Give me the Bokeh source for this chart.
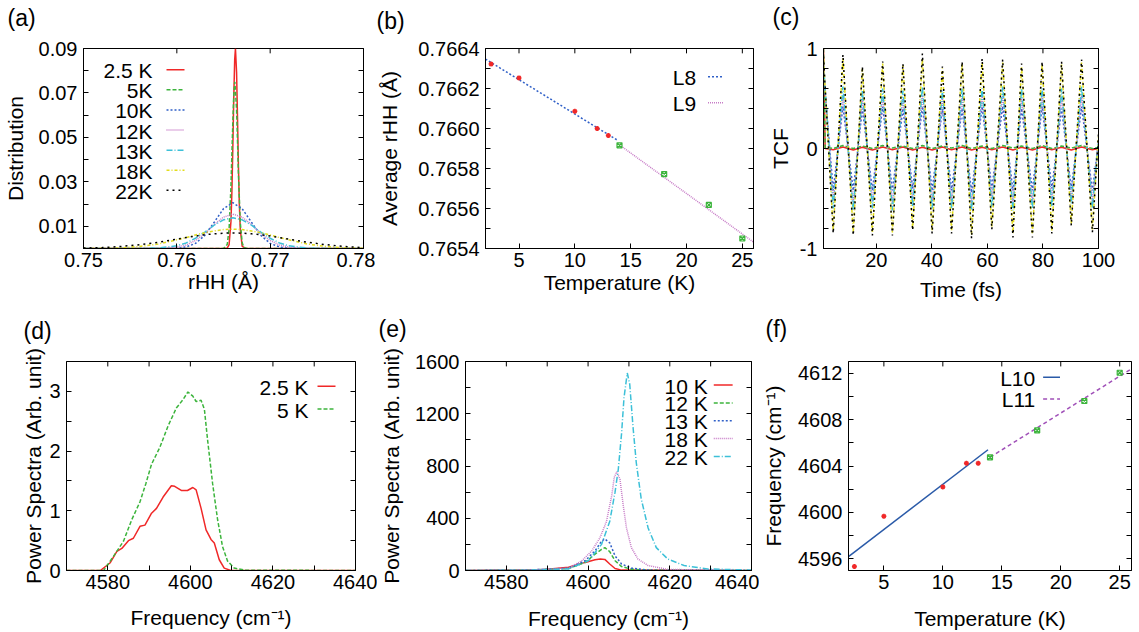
from bokeh.plotting import figure
from bokeh.layouts import column, row
from bokeh.models import (FixedTicker, NumeralTickFormatter, LinearAxis, Label, Arrow,
                          CustomJSTickFormatter, Range1d, GridBox)
from bokeh.embed import file_html
from bokeh.resources import INLINE

# ---------------- data ----------------
# (a) distribution of r_HH
a_x_25 = [0.750, 0.7650, 0.7654, 0.7656, 0.7658, 0.7659, 0.7660, 0.7661, 0.7662, 0.76628,
          0.7664, 0.7665, 0.7666, 0.7667, 0.7668, 0.7670, 0.7674, 0.780]
a_y_25 = [0, 0, 0.0002, 0.0017, 0.0122, 0.0257, 0.0456, 0.0680, 0.0851, 0.0900,
          0.0794, 0.0591, 0.0370, 0.0195, 0.0086, 0.0010, 0.0, 0]
a_x_5 = [0.750, 0.7650, 0.7654, 0.7656, 0.7658, 0.7660, 0.7661, 0.7662, 0.76622, 0.7664,
         0.7665, 0.7666, 0.7668, 0.7670, 0.7672, 0.7676, 0.780]
a_y_5 = [0, 0, 0.0018, 0.0088, 0.0281, 0.0572, 0.0691, 0.0748, 0.0749, 0.0626,
         0.0484, 0.0336, 0.0116, 0.0026, 0.0004, 0, 0]
a_x_broad = [0.750, 0.752, 0.754, 0.756, 0.758, 0.760, 0.761, 0.762, 0.763, 0.764, 0.765,
             0.766, 0.767, 0.768, 0.769, 0.770, 0.771, 0.772, 0.774, 0.776, 0.778, 0.780]
a_y_10 = [0, 0, 0, 0, 0, 0.0001, 0.0007, 0.0023, 0.0059, 0.0118, 0.0179,
          0.0206, 0.0179, 0.0118, 0.0059, 0.0023, 0.0007, 0.0001, 0, 0, 0, 0]
a_y_12 = [0, 0, 0, 0, 0, 0.0006, 0.0016, 0.0036, 0.0068, 0.0108, 0.0141,
          0.0155, 0.0141, 0.0108, 0.0068, 0.0036, 0.0016, 0.0006, 0, 0, 0, 0]
a_y_13 = [0, 0, 0, 0, 0.0002, 0.0012, 0.0025, 0.0046, 0.0074, 0.0105, 0.0129,
          0.0138, 0.0129, 0.0105, 0.0074, 0.0046, 0.0025, 0.0012, 0.0002, 0, 0, 0]
a_y_18 = [0.0000, 0.0001, 0.0003, 0.0009, 0.0020, 0.0039, 0.0049, 0.0061, 0.0071, 0.0079, 0.0085,
          0.0087, 0.0085, 0.0079, 0.0071, 0.0061, 0.0049, 0.0039, 0.0020, 0.0009, 0.0003, 0.0001]
a_y_22 = [0.0002, 0.0004, 0.0009, 0.0017, 0.0028, 0.0042, 0.0049, 0.0056, 0.0062, 0.0066, 0.0069,
          0.0070, 0.0069, 0.0066, 0.0062, 0.0056, 0.0049, 0.0042, 0.0028, 0.0017, 0.0009, 0.0004]
a_labels = ["2.5 K", "5K", "10K", "12K", "13K", "18K", "22K"]

# (b) average r_HH vs temperature
b_T_low = [2.5, 5, 10, 12, 13]
b_r_low = [0.766322, 0.766253, 0.766086, 0.766000, 0.765965]
b_T_high = [14, 18, 22, 25]
b_r_high = [0.765916, 0.765772, 0.765618, 0.765450]
b_L8_T = [2.0, 13.8]
b_L8_r = [0.766347, 0.765942]
b_L9_T = [14.0, 26.0]
b_L9_r = [0.765918, 0.765432]

# (c) time correlation functions
c_t = [1.0, 4.5, 8.0, 11.7, 15.0, 18.6, 22.3, 25.8, 29.6, 33.1, 36.6, 40.1, 43.8, 47.1, 50.9,
       54.3, 58.1, 61.6, 65.5, 69.2, 72.3, 76.2, 79.7, 83.2, 86.7, 90.2, 93.9, 97.8, 100.0]
c_22 = [0.92, -0.85, 0.94, -0.87, 0.82, -0.87, 0.87, -0.87, 0.85, -0.82, 0.95, -0.85, 0.82, -0.85, 0.87,
        -0.90, 0.90, -0.81, 0.89, -0.89, 0.85, -0.89, 0.87, -0.85, 0.87, -0.77, 0.89, -0.84, 0.15]
c_18 = [0.90, -0.82, 0.90, -0.84, 0.80, -0.84, 0.85, -0.84, 0.83, -0.80, 0.90, -0.82, 0.80, -0.82, 0.85,
        -0.86, 0.86, -0.79, 0.86, -0.85, 0.82, -0.85, 0.84, -0.82, 0.84, -0.75, 0.86, -0.81, 0.14]
c_13 = [0.85, -0.60, 0.62, -0.62, 0.58, -0.60, 0.60, -0.62, 0.58, -0.58, 0.62, -0.60, 0.58, -0.60, 0.60,
        -0.62, 0.60, -0.58, 0.62, -0.62, 0.60, -0.60, 0.60, -0.58, 0.60, -0.55, 0.62, -0.60, 0.10]
c_12 = [0.80, -0.52, 0.52, -0.55, 0.50, -0.53, 0.52, -0.55, 0.50, -0.52, 0.53, -0.53, 0.50, -0.53, 0.52,
        -0.55, 0.52, -0.50, 0.53, -0.55, 0.50, -0.53, 0.52, -0.52, 0.52, -0.50, 0.53, -0.53, 0.08]
c_10 = [0.75, -0.42, 0.42, -0.42, 0.40, -0.42, 0.42, -0.42, 0.40, -0.40, 0.42, -0.42, 0.40, -0.42, 0.40,
        -0.44, 0.42, -0.40, 0.42, -0.42, 0.40, -0.42, 0.42, -0.40, 0.40, -0.40, 0.42, -0.42, 0.06]
c_t_low = [1.0, 1.6, 4.5, 8.0, 11.7, 15.0, 18.6, 22.3, 25.8, 29.6, 33.1, 36.6, 40.1, 43.8, 47.1,
           50.9, 54.3, 58.1, 61.6, 65.5, 69.2, 72.3, 76.2, 79.7, 83.2, 86.7, 90.2, 93.9, 97.8, 100.0]
c_2p5 = [1.0, 0.0, -0.012, 0.015, -0.015, 0.012, -0.015, 0.015, -0.012, 0.015, -0.015, 0.012, -0.015,
         0.015, -0.012, 0.015, -0.015, 0.012, -0.012, 0.015, -0.015, 0.012, -0.015, 0.015, -0.012,
         0.012, -0.015, 0.015, -0.012, 0.0]
c_5 = [1.0, 0.01, 0.0, 0.03, 0.0, 0.025, 0.0, 0.03, 0.005, 0.025, 0.0, 0.03, 0.0, 0.025, 0.005,
       0.03, 0.0, 0.025, 0.0, 0.03, 0.005, 0.025, 0.0, 0.03, 0.0, 0.025, 0.005, 0.03, 0.0, 0.01]

# (d) power spectra, low temperature
d_x_25 = [4570, 4578.2, 4580.6, 4582.2, 4583.4, 4585.0, 4586.2, 4587.8, 4589.0, 4590.6, 4591.8,
          4593.4, 4595.4, 4596.2, 4597.8, 4599.3, 4600.6, 4601.4, 4602.6, 4603.8, 4605.0, 4605.8,
          4607.0, 4608.2, 4609.8, 4640]
d_y_25 = [0, 0, 0.13, 0.32, 0.37, 0.50, 0.54, 0.74, 0.76, 0.96, 1.04, 1.23, 1.42, 1.41, 1.34, 1.34,
          1.39, 1.35, 1.04, 0.68, 0.52, 0.46, 0.18, 0.04, 0.0, 0]
d_x_5 = [4570, 4579.0, 4581.4, 4583.8, 4585.8, 4587.8, 4589.2, 4590.6, 4592.6, 4594.6, 4596.6,
         4598.2, 4599.4, 4600.6, 4601.4, 4602.6, 4603.4, 4604.2, 4605.4, 4606.6, 4607.8, 4609.0,
         4610.6, 4613.4, 4640]
d_y_5 = [0, 0, 0.24, 0.49, 0.85, 1.15, 1.45, 1.78, 2.06, 2.42, 2.72, 2.86, 2.99, 2.92, 2.83, 2.85,
         2.70, 2.17, 1.45, 0.85, 0.40, 0.16, 0.04, 0.005, 0]
d_labels = ["2.5 K", "5 K"]

# (e) power spectra, higher temperature
e_x_22 = [4570, 4585, 4595.2, 4600.1, 4603.3, 4605.3, 4606.6, 4607.4, 4608.2, 4608.8, 4609.6, 4610.2,
          4611.0, 4611.8, 4613.0, 4614.7, 4616.7, 4619.5, 4623.5, 4629.2, 4640]
e_y_22 = [0, 2, 12, 75, 200, 375, 600, 775, 1050, 1325, 1512, 1425, 1100, 825, 550, 325, 175, 88,
          38, 12, 3]
e_x_18 = [4570, 4585, 4595.2, 4598.5, 4600.9, 4602.9, 4604.5, 4605.8, 4606.4, 4607.0, 4607.8, 4608.6,
          4609.4, 4610.6, 4612.2, 4614.7, 4619.5, 4640]
e_y_18 = [0, 3, 18, 75, 150, 250, 375, 575, 712, 755, 700, 500, 325, 175, 88, 38, 8, 0]
e_x_13 = [4570, 4585, 4595.2, 4599.3, 4601.7, 4603.3, 4604.1, 4605.3, 4606.6, 4608.2, 4610.6, 4614.7, 4640]
e_y_13 = [0, 3, 18, 75, 150, 225, 242, 212, 112, 50, 18, 3, 0]
e_x_12 = [4570, 4585, 4595.2, 4599.3, 4601.7, 4603.3, 4604.1, 4605.3, 4606.6, 4608.2, 4610.6, 4614.7, 4640]
e_y_12 = [0, 3, 15, 62, 125, 162, 175, 145, 75, 30, 10, 2, 0]
e_x_10 = [4570, 4588.8, 4595.2, 4599.3, 4601.7, 4603.0, 4604.1, 4605.3, 4606.6, 4608.2, 4640]
e_y_10 = [0, 5, 25, 62, 82, 88, 85, 50, 15, 3, 0]
e_labels = ["10 K", "12 K", "13 K", "18 K", "22 K"]

# (f) peak frequency vs temperature
f_T_low = [2.5, 5, 10, 12, 13]
f_F_low = [4595.35, 4599.67, 4602.2, 4604.24, 4604.24]
f_T_high = [14, 18, 22, 25]
f_F_high = [4604.75, 4607.06, 4609.6, 4612.03]
f_L10_T = [2.0, 13.83]
f_L10_F = [4596.2, 4605.4]
f_L11_T = [14.0, 26.0]
f_L11_F = [4604.75, 4612.37]

panel_names = ["(a)", "(b)", "(c)", "(d)", "(e)", "(f)"]

# ---------------- style ----------------
FONT = "Liberation Sans"
TICK_FS = "20px"
LAB_FS = "21px"
LEG_FS = "21px"
PAN_FS = "23px"

RED = "#f02828"
GREEN = "#3cb43c"
BLUE = "#3060c8"
MAG = "#c77cc7"
CYAN = "#3cc0d8"
YEL = "#e2dc1c"
BLK = "#000000"
L10C = "#2a5aa8"
L11C = "#a050b8"

BLANK = CustomJSTickFormatter(code="return ''")
TICK_LEN = 5


def make_fig(fw, fh, borders, xr, yr, xt, xm, yt, ym, xfmt, yfmt, xlabel, ylabel,
             xstand, ystand):
    L, R, T, B = borders
    p = figure(width=L + fw + R, height=T + fh + B, x_range=Range1d(*xr), y_range=Range1d(*yr),
               output_backend="svg", toolbar_location=None,
               min_border_left=L, min_border_right=R, min_border_top=T, min_border_bottom=B,
               x_axis_label=xlabel, y_axis_label=ylabel)
    # the (empty) default title must not take space above the frame
    p.title.text = ""
    p.title.text_font_size = "0px"
    p.title.standoff = 0
    p.xgrid.visible = False
    p.ygrid.visible = False
    p.outline_line_color = "black"
    p.outline_line_width = 1
    p.background_fill_color = "white"
    p.border_fill_color = "white"
    for ax, t, m, fmt, st, lst in ((p.xaxis[0], xt, xm, xfmt, xstand, 4),
                                   (p.yaxis[0], yt, ym, yfmt, ystand, 6)):
        ax.ticker = FixedTicker(ticks=t, minor_ticks=m)
        ax.formatter = NumeralTickFormatter(format=fmt)
        ax.major_label_text_font = FONT
        ax.major_label_text_font_size = TICK_FS
        ax.major_label_text_color = "black"
        ax.axis_label_text_font = FONT
        ax.axis_label_text_font_size = LAB_FS
        ax.axis_label_text_font_style = "normal"
        ax.axis_label_text_color = "black"
        ax.axis_label_standoff = st
        ax.major_label_standoff = lst
        ax.major_tick_in = TICK_LEN
        ax.major_tick_out = 0
        ax.minor_tick_in = TICK_LEN
        ax.minor_tick_out = 0
        ax.axis_line_color = "black"
        ax.major_tick_line_color = "black"
        ax.minor_tick_line_color = "black"
    # mirrored ticks on the right (gnuplot style)
    ax = LinearAxis(ticker=FixedTicker(ticks=yt, minor_ticks=ym), formatter=BLANK,
                    major_tick_in=TICK_LEN, major_tick_out=0, minor_tick_in=TICK_LEN,
                    minor_tick_out=0, major_label_standoff=0, major_label_text_font_size="1px",
                    axis_line_color="black")
    p.add_layout(ax, "right")
    # mirrored ticks along the top edge
    top_ticks = list(xt) + list(xm)
    dy = TICK_LEN / fh * (yr[1] - yr[0])
    p.segment(x0=top_ticks, y0=[yr[1]] * len(top_ticks), x1=top_ticks,
              y1=[yr[1] - dy] * len(top_ticks), line_color="black", line_width=1)
    p._fw = fw
    p._fh = fh
    return p


def at(p, px, py):
    xr, yr = p.x_range, p.y_range
    x = xr.start + px / p._fw * (xr.end - xr.start)
    y = yr.end - py / p._fh * (yr.end - yr.start)
    return x, y


def legend_entry(p, label, text_right, s0, s1, py, color, dash, lw=1.5):
    x, y = at(p, text_right, py + 1)
    p.add_layout(Label(x=x, y=y, text=label, text_align="right", text_baseline="middle",
                       text_font=FONT, text_font_size=LEG_FS, text_color="black"))
    x0, y0 = at(p, s0, py)
    x1, _ = at(p, s1, py)
    p.add_layout(Arrow(end=None, x_start=x0, y_start=y0, x_end=x1, y_end=y0,
                       line_color=color, line_dash=dash, line_width=lw))


# ---------------- (a) ----------------
pa = make_fig(280, 207, (83, 12, 41, 60), (0.75, 0.78), (0.0, 0.09),
              [0.75, 0.76, 0.77, 0.78], [], [0.01, 0.03, 0.05, 0.07, 0.09],
              [0.0, 0.02, 0.04, 0.06, 0.08], "0.00", "0.00", "rHH (Å)", "Distribution", 0, 9)
a_series = [(a_x_25, a_y_25, RED, "solid"), (a_x_5, a_y_5, GREEN, "4 2"),
            (a_x_broad, a_y_10, BLUE, "2 2"), (a_x_broad, a_y_12, MAG, "1 1"),
            (a_x_broad, a_y_13, CYAN, "6 2 1 2"), (a_x_broad, a_y_18, YEL, "3 2 1 2"),
            (a_x_broad, a_y_22, BLK, "2 4")]
for xs, ys, c, d in a_series:
    pa.line(xs, ys, line_color=c, line_width=1.5, line_dash=d)
for i, (lab, (_, _, c, d)) in enumerate(zip(a_labels, a_series)):
    legend_entry(pa, lab, 69, 83, 101, 22 + i * 20.8, c, d)

# ---------------- (b) ----------------
pb = make_fig(271, 206, (107, 12, 44, 58), (2, 26), (0.7654, 0.7664),
              [5, 10, 15, 20, 25], [], [0.7654, 0.7656, 0.7658, 0.7660, 0.7662, 0.7664],
              [0.7655, 0.7657, 0.7659, 0.7661, 0.7663], "0", "0.0000",
              "Temperature (K)", "Average rHH (Å)", 1, 14)
pb.line(b_L8_T, b_L8_r, line_color=BLUE, line_width=1.5, line_dash="2 2")
pb.line(b_L9_T, b_L9_r, line_color=MAG, line_width=1.5, line_dash="1 1")
pb.scatter(b_T_low, b_r_low, marker="asterisk", size=5, line_color=RED, line_width=1.5)
pb.scatter(b_T_high, b_r_high, marker="square_x", size=5, line_color=GREEN, fill_color=None,
           line_width=1.2)
legend_entry(pb, "L8", 213, 225, 241, 29, BLUE, "2 2")
legend_entry(pb, "L9", 213, 225, 241, 56, MAG, "1 1")

# ---------------- (c) ----------------
pc = make_fig(283, 207, (50, 33, 48, 53), (1, 100), (-1, 1),
              [20, 40, 60, 80, 100], [], [-1, 0, 1],
              [-0.8, -0.6, -0.4, -0.2, 0.2, 0.4, 0.6, 0.8], "0", "0",
              "Time (fs)", "TCF", 8, 5)
pc.line(c_t_low, c_2p5, line_color=RED, line_width=1.5)
pc.line(c_t_low, c_5, line_color=GREEN, line_width=1.5, line_dash="4 2")
pc.line(c_t, c_10, line_color=BLUE, line_width=1.5, line_dash="2 2")
pc.line(c_t, c_12, line_color=MAG, line_width=1.5, line_dash="1 1")
pc.line(c_t, c_13, line_color=CYAN, line_width=1.5, line_dash="6 2 1 2")
pc.line(c_t, c_18, line_color=YEL, line_width=1.5, line_dash="3 2 1 2")
pc.line(c_t, c_22, line_color=BLK, line_width=1.5, line_dash="2 4")

# ---------------- (d) ----------------
pd_ = make_fig(289, 211, (66, 22, 52, 61), (4570, 4640), (0, 3.5),
               [4580, 4600, 4620, 4640], [4570, 4590, 4610, 4630], [0, 1, 2, 3],
               [0.5, 1.5, 2.5], "0", "0",
               "Frequency (cm⁻¹)", "Power Spectra (Arb. unit)", 14, 1)
pd_.line(d_x_25, d_y_25, line_color=RED, line_width=1.5)
pd_.line(d_x_5, d_y_5, line_color=GREEN, line_width=1.5, line_dash="4 2")
legend_entry(pd_, d_labels[0], 242, 251, 269, 25, RED, "solid")
legend_entry(pd_, d_labels[1], 242, 251, 269, 48, GREEN, "4 2")

# ---------------- (e) ----------------
pe = make_fig(288, 213, (86, 8, 52, 59), (4570, 4640), (0, 1600),
              [4580, 4600, 4620, 4640], [4570, 4590, 4610, 4630], [0, 400, 800, 1200, 1600],
              [200, 600, 1000, 1400], "0", "0",
              "Frequency (cm⁻¹)", "Power Spectra (Arb. unit)", 15, 9)
e_series = [(e_x_10, e_y_10, RED, "solid"), (e_x_12, e_y_12, GREEN, "4 2"),
            (e_x_13, e_y_13, BLUE, "2 2"), (e_x_18, e_y_18, MAG, "1 1"),
            (e_x_22, e_y_22, CYAN, "6 2 1 2")]
for xs, ys, c, d in e_series:
    pe.line(xs, ys, line_color=c, line_width=1.5, line_dash=d)
for i, (lab, (_, _, c, d)) in enumerate(zip(e_labels, e_series)):
    legend_entry(pe, lab, 244, 250, 269, 24 + i * 18.2, c, d)

# ---------------- (f) ----------------
pf = make_fig(285, 212, (87, 3, 53, 59), (2, 26), (4595, 4613),
              [5, 10, 15, 20, 25], [], [4596, 4600, 4604, 4608, 4612],
              [4598, 4602, 4606, 4610], "0", "0",
              "Temperature (K)", "Frequency (cm⁻¹)", 15, 10)
pf.line(f_L10_T, f_L10_F, line_color=L10C, line_width=1.5)
pf.line(f_L11_T, f_L11_F, line_color=L11C, line_width=1.5, line_dash="4 3")
pf.scatter(f_T_low, f_F_low, marker="asterisk", size=5, line_color=RED, line_width=1.5)
pf.scatter(f_T_high, f_F_high, marker="square_x", size=5, line_color=GREEN, fill_color=None,
           line_width=1.2)
legend_entry(pf, "L10", 188, 196, 213, 16, L10C, "solid")
legend_entry(pf, "L11", 188, 196, 213, 38, L11C, "4 3")

# ---------------- panel labels on a transparent overlay ----------------
OW, OH = 1134, 632
ov = figure(width=OW, height=OH, x_range=Range1d(0, OW), y_range=Range1d(OH, 0),
            output_backend="svg", toolbar_location=None, min_border=0,
            x_axis_type=None, y_axis_type=None)
ov.title.text_font_size = "0px"
ov.title.standoff = 0
ov.background_fill_color = None
ov.border_fill_color = None
ov.outline_line_color = None
pan_pos = [(7, 17), (376, 20), (772, 16), (23, 330), (378, 328), (765, 328)]
for name, (x, y) in zip(panel_names, pan_pos):
    ov.add_layout(Label(x=x, y=y, text=name, text_align="left", text_baseline="middle",
                        text_font=FONT, text_font_size=PAN_FS, text_color="black"))

main = column(row(pa, pb, pc), row(pd_, pe, pf))
layout = GridBox(children=[(main, 0, 0), (ov, 0, 0)])
open("out.html", "w").write(file_html(layout, INLINE))
